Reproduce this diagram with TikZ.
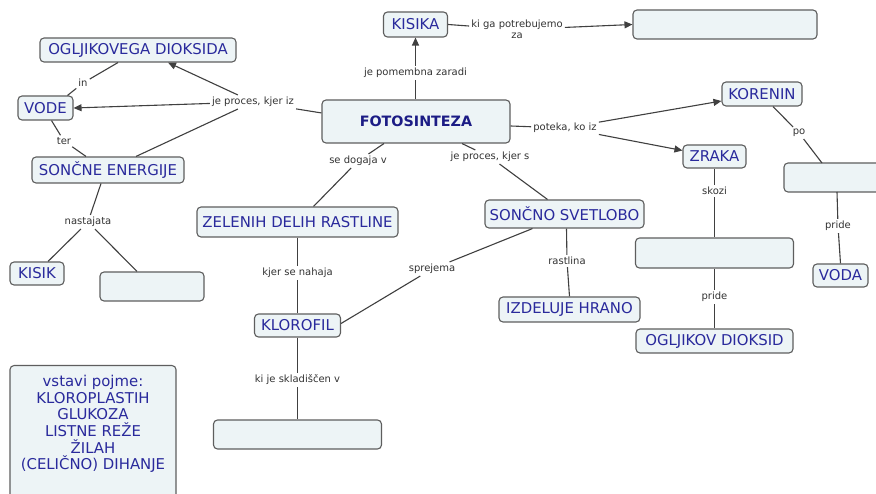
\documentclass[tikz,border=0pt]{standalone}
\usepackage{fontspec}
\setmainfont{DejaVu Sans}
\usetikzlibrary{arrows.meta}
\definecolor{boxfill}{HTML}{EDF4F6}
\definecolor{boxdraw}{HTML}{5E5E5E}
\definecolor{boxtext}{HTML}{2A2A9C}
\definecolor{headtext}{HTML}{1C1C85}
\definecolor{linktext}{HTML}{333333}
\definecolor{linkline}{HTML}{404040}
\tikzset{
  concept/.style={draw=boxdraw, line width=1.1pt, fill=boxfill, rounded corners=4pt,
    text=boxtext, font=\fontsize{14.9}{16.7}\selectfont, inner sep=0pt, align=center},
  lbl/.style={text=linktext, font=\fontsize{10}{10.8}\selectfont, inner sep=2pt, align=center},
  conn/.style={draw=linkline, line width=1.1pt},
  arr/.style={conn, -{Triangle[length=8pt,width=7pt]}},
}
\begin{document}
\begin{tikzpicture}[x=1pt,y=-1pt]
\useasboundingbox (0,0) rectangle (876,494);
\fill[white] (0,0) rectangle (876,494);
\clip (0,0) rectangle (876,494);

% concepts
\node[concept, minimum width=188, minimum height=43, font=\fontsize{14.3}{16}\selectfont\bfseries, text=headtext] (fot) at (416,121.5) {FOTOSINTEZA};
\node[concept, minimum width=64, minimum height=25] (kisika) at (415.5,24.5) {KISIKA};
\node[concept, minimum width=184, minimum height=29] (blankA) at (725,24.5) {};
\node[concept, minimum width=196, minimum height=24] (og) at (138,50) {OGLJIKOVEGA DIOKSIDA};
\node[concept, minimum width=55, minimum height=24] (vode) at (45.5,108) {VODE};
\node[concept, minimum width=152, minimum height=26] (sen) at (108,170) {SONČNE ENERGIJE};
\node[concept, minimum width=80, minimum height=24] (kor) at (762,94) {KORENIN};
\node[concept, minimum width=63, minimum height=23] (zr) at (714.5,156.5) {ZRAKA};
\node[concept, minimum width=120, minimum height=29] (blankB) at (844,177.5) {};
\node[concept, minimum width=201, minimum height=30] (zel) at (297.5,222) {ZELENIH DELIH RASTLINE};
\node[concept, minimum width=159, minimum height=28] (ssv) at (564.5,214) {SONČNO SVETLOBO};
\node[concept, minimum width=158, minimum height=30] (blankC) at (714.5,253) {};
\node[concept, minimum width=54, minimum height=23] (kisik) at (37,273.5) {KISIK};
\node[concept, minimum width=104, minimum height=29] (blankD) at (152,286.5) {};
\node[concept, minimum width=86, minimum height=23] (klo) at (297.5,325.5) {KLOROFIL};
\node[concept, minimum width=141, minimum height=25] (izh) at (569.5,309.5) {IZDELUJE HRANO};
\node[concept, minimum width=55, minimum height=23] (voda) at (840.5,275.5) {VODA};
\node[concept, minimum width=157, minimum height=24] (ogd) at (714.5,341) {OGLJIKOV DIOKSID};
\node[concept, minimum width=168, minimum height=29] (blankE) at (297.5,434.5) {};
\node[concept, minimum width=166, minimum height=150, anchor=north] (legend) at (93,365) {};
\node[text=boxtext, font=\fontsize{14.9}{16.7}\selectfont, align=center, inner sep=0pt] (legendtxt) at (93,424) {vstavi pojme:\\KLOROPLASTIH\\GLUKOZA\\LISTNE REŽE\\ŽILAH\\(CELIČNO) DIHANJE};

% link labels
\node[lbl] (l1) at (415.5,73) {je pomembna zaradi};
\node[lbl] (l2) at (517,29.5) {ki ga potrebujemo\\za};
\node[lbl] (l3) at (253,102) {je proces, kjer iz};
\node[lbl] (l4) at (83,83) {in};
\node[lbl] (l5) at (64,141) {ter};
\node[lbl] (l6) at (88,222) {nastajata};
\node[lbl] (l7) at (358,161) {se dogaja v};
\node[lbl] (l8) at (490,157) {je proces, kjer s};
\node[lbl] (l9) at (565,128) {poteka, ko iz};
\node[lbl] (l10) at (799,133) {po};
\node[lbl] (l11) at (714.5,191) {skozi};
\node[lbl] (l12) at (838,226) {pride};
\node[lbl] (l13) at (714.5,297) {pride};
\node[lbl] (l14) at (297.5,273) {kjer se nahaja};
\node[lbl] (l15) at (297.5,380) {ki je skladiščen v};
\node[lbl] (l16) at (432,269) {sprejema};
\node[lbl] (l17) at (567,261) {rastlina};

% connectors
\draw[conn] (fot.north -| l1) -- (l1);
\draw[arr] (l1) -- (kisika.south);
\draw[conn] (kisika.east) -- (l2);
\draw[arr] (l2) -- (blankA.west);

\draw[conn] ([yshift=-13.5pt]fot.north west) -- (l3);
\draw[arr] (l3) -- ([xshift=30pt]og.south);
\draw[arr] (l3) -- (vode.east);
\draw[conn] (l3) -- ([xshift=28pt]sen.north);

\draw[conn] ([xshift=-20pt]og.south) -- (l4);
\draw[conn] (l4) -- ([xshift=22pt]vode.north);
\draw[conn] ([xshift=6pt]vode.south) -- (l5);
\draw[conn] (l5) -- ([xshift=-22pt]sen.north);
\draw[conn] ([xshift=-7pt]sen.south) -- (l6);
\draw[conn] (l6) -- ([xshift=11pt]kisik.north);
\draw[conn] (l6) -- ([xshift=-15pt]blankD.north);

\draw[conn] ([xshift=-32pt]fot.south) -- (l7);
\draw[conn] (l7) -- ([xshift=16pt]zel.north);
\draw[conn] ([xshift=46pt]fot.south) -- (l8);
\draw[conn] (l8) -- ([xshift=-17pt]ssv.north);

\draw[conn] ([yshift=-4.5pt]fot.east) -- (l9);
\draw[arr] (l9) -- ([yshift=-7pt]kor.west);
\draw[arr] (l9) -- ([yshift=6pt]zr.west);

\draw[conn] ([xshift=11pt]kor.south) -- (l10);
\draw[conn] (l10) -- (822,163);
\draw[conn] (zr.south) -- (l11);
\draw[conn] (l11) -- (blankC.north);
\draw[conn] (837,192) -- (l12);
\draw[conn] (l12) -- (voda.north);
\draw[conn] (blankC.south) -- (l13);
\draw[conn] (l13) -- (ogd.north);

\draw[conn] (zel.south) -- (l14);
\draw[conn] (l14) -- (klo.north);
\draw[conn] (klo.south) -- (l15);
\draw[conn] (l15) -- (blankE.north);
\draw[conn] ([xshift=-32pt]ssv.south) -- (l16);
\draw[conn] (l16) -- ([yshift=2pt]klo.east);
\draw[conn] ([xshift=2pt]ssv.south) -- (l17);
\draw[conn] (l17) -- (izh.north);
\end{tikzpicture}
\end{document}
